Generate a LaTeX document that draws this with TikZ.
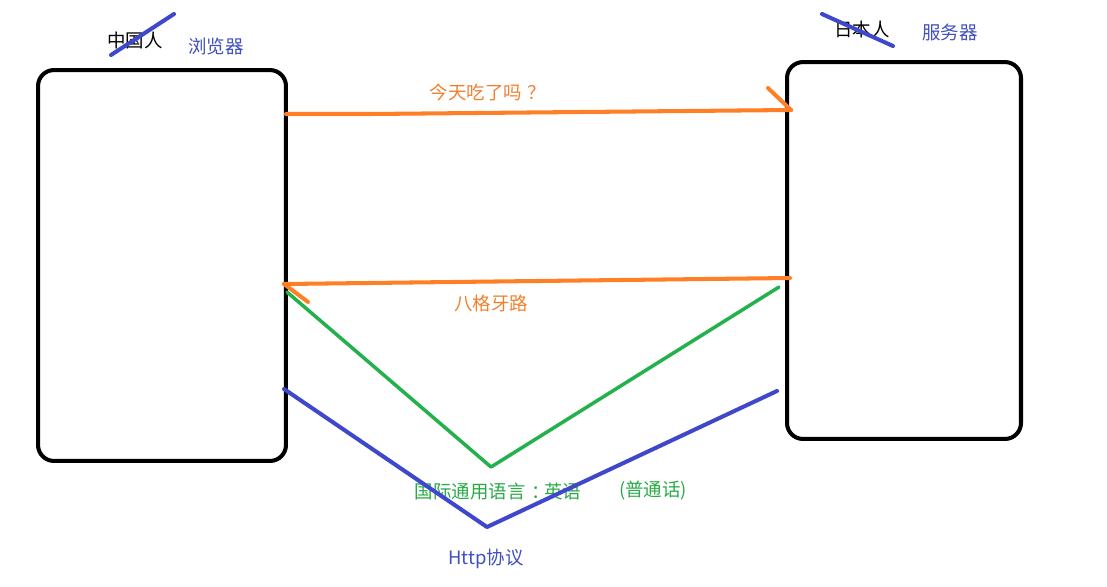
\documentclass[tikz,border=0pt]{standalone}
\usepackage{fontspec}
\setmainfont{Noto Sans CJK SC}
\usepackage{tikz}
\usetikzlibrary{positioning}

\definecolor{paintorange}{RGB}{255,127,39}
\definecolor{paintgreen}{RGB}{34,177,76}
\definecolor{paintblue}{RGB}{63,72,204}
\definecolor{textorange}{RGB}{240,128,48}
\definecolor{textgreen}{RGB}{40,170,70}
\definecolor{textblue}{RGB}{64,80,192}

\begin{document}
\begin{tikzpicture}[x=0.02cm,y=-0.02cm,
	party/.style={draw,line width=2.3pt,rounded corners=0.32cm},
	lbl/.style={inner sep=0pt,font=\fontsize{10.5}{12}\selectfont},
	msg/.style={line width=2.3pt,paintorange,line cap=round},
	strike/.style={line width=2.3pt,paintblue,line cap=round}]

	\useasboundingbox (0,0) rectangle (1107,586);

	% the two sides
	\node[party,minimum width=4.96cm,minimum height=7.82cm] (browser) at (162,265.5) {};
	\node[party,minimum width=4.68cm,minimum height=7.54cm] (server) at (904,250.5) {};

	% names above the boxes
	\node[lbl] (cn) at (135,40) {中国人};
	\node[lbl,textblue] (browsername) at (216,46) {浏览器};
	\node[lbl] (jp) at (862,29) {日本人};
	\node[lbl,textblue] (servername) at (950,32) {服务器};
	\draw[strike] (111,55) -- (174,14);
	\draw[strike] (822,14) -- (893,46);

	% request and answer
	\coordinate (reqstart) at (286,114);
	\coordinate (reqend) at (791,110);
	\coordinate (ansstart) at (790,278);
	\coordinate (ansend) at (284,284);
	\draw[msg] (reqstart) -- (370,114) -- (reqend);
	\draw[msg] (reqend) -- ++(-23,-22);
	\draw[msg] (ansstart) -- (ansend);
	\draw[msg] (ansend) -- ++(24,18);
	\node[lbl,textorange] (ask) at (485,92) {今天吃了吗\kern0.3em？\kern-0.3em};
	\node[lbl,textorange] (reply) at (491,303) {八格牙路};

	% common language
	\coordinate (gl) at (287,292);
	\coordinate (gv) at (491,467);
	\coordinate (gr) at (779,287);
	\draw[paintgreen,line width=2pt,line cap=round,line join=round] (gl) -- (gv) -- (gr);
	\node[lbl,textgreen] (english) at (498,492) {国际通用语言\kern0.3em：\kern-0.3em英语};
	\node[lbl,textgreen] (mandarin) at (653,491) {(普通话)};

	% protocol
	\coordinate (bl) at (284,389);
	\coordinate (bv) at (487,527);
	\coordinate (br) at (777,391);
	\draw[paintblue,line width=2.3pt,line cap=round,line join=round] (bl) -- (bv) -- (br);
	\node[lbl,textblue] (http) at (486,559) {Http协议};
\end{tikzpicture}
\end{document}
